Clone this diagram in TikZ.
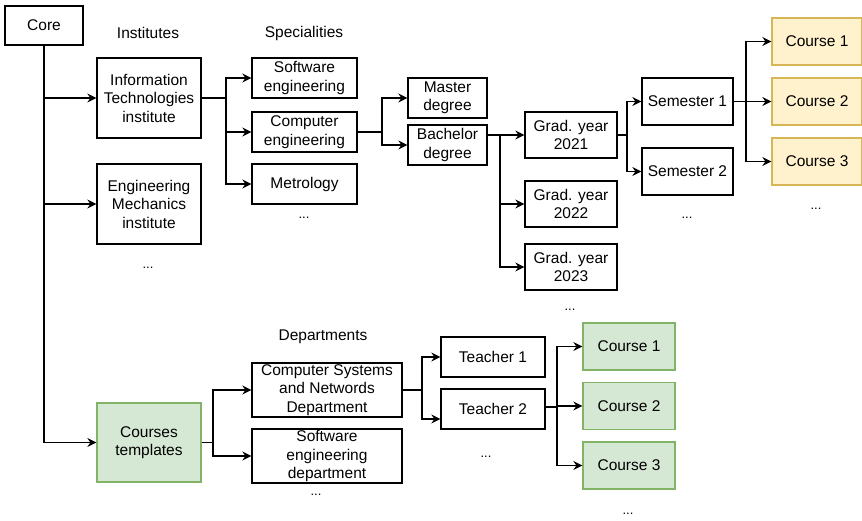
\documentclass[tikz,border=0pt]{standalone}
\usepackage{fontspec}
\setmainfont{Liberation Sans}
\usetikzlibrary{arrows.meta}
\definecolor{ofill}{HTML}{FFF2CC}
\definecolor{oline}{HTML}{D6B656}
\definecolor{gfill}{HTML}{D5E8D4}
\definecolor{gline}{HTML}{82B366}
\tikzset{
  box/.style={draw, line width=1.3pt, fill=white, align=center, inner sep=0pt, font=\fontsize{15.5}{18.5}\selectfont},
  obox/.style={box, fill=ofill, draw=oline},
  gbox/.style={box, fill=gfill, draw=gline},
  lbl/.style={inner sep=0pt, font=\fontsize{15.5}{18.5}\selectfont},
  dots/.style={inner sep=0pt, font=\fontsize{13}{15}\selectfont},
  arr/.style={line width=1.3pt, -{Stealth[length=9pt,width=9pt,inset=3pt]}},
  ln/.style={line width=1.3pt}
}
\begin{document}
\begin{tikzpicture}[x=1pt,y=1pt]
\useasboundingbox (0,0) rectangle (862,-521);
% top part
\node[box, minimum width=78, minimum height=39] (core) at (44,-25.5) {Core};
\node[lbl] (linst) at (148,-33) {Institutes};
\node[lbl] (lspec) at (304,-33) {Specialities};
\node[box, minimum width=104, minimum height=80] (it) at (149,-98) {Information\\Technologies\\institute};
\node[box, minimum width=104, minimum height=80] (em) at (149,-204) {Engineering\\Mechanics\\institute};
\node[dots] (d1) at (148,-268) {...};
\node[box, minimum width=105, minimum height=40] (se) at (304.5,-78) {Software\\engineering};
\node[box, minimum width=105, minimum height=40] (ce) at (304.5,-132) {Computer\\engineering};
\node[box, minimum width=105, minimum height=40] (met) at (304.5,-184) {Metrology};
\node[dots] (d2) at (304,-218) {...};
\node[box, minimum width=79, minimum height=40] (mas) at (447.5,-98) {Master\\degree};
\node[box, minimum width=79, minimum height=40] (bac) at (447.5,-145) {Bachelor\\degree};
\node[box, minimum width=92, minimum height=46] (g1) at (571,-135) {Grad. year\\2021};
\node[box, minimum width=92, minimum height=46] (g2) at (571,-204) {Grad. year\\2022};
\node[box, minimum width=92, minimum height=46] (g3) at (571,-267) {Grad. year\\2023};
\node[dots] (d3) at (570,-310) {...};
\node[box, minimum width=91, minimum height=47] (s1) at (687.5,-101.5) {Semester 1};
\node[box, minimum width=91, minimum height=47] (s2) at (687.5,-171.5) {Semester 2};
\node[dots] (d4) at (687,-218) {...};
\node[obox, minimum width=90, minimum height=47] (c1) at (817,-41.5) {Course 1};
\node[obox, minimum width=90, minimum height=47] (c2) at (817,-101.5) {Course 2};
\node[obox, minimum width=90, minimum height=47] (c3) at (817,-161.5) {Course 3};
\node[dots] (d5) at (816,-209) {...};
% bottom part
\node[gbox, minimum width=104, minimum height=79] (ct) at (149,-442.5) {Courses\\templates};
\node[lbl] (ldep) at (323,-337) {Departments};
\node[box, minimum width=150, minimum height=54] (csn) at (327,-390) {Computer Systems\\and Networds\\Department};
\node[box, minimum width=150, minimum height=54] (sed) at (327,-456) {Software\\engineering\\department};
\node[dots] (d6) at (316,-495) {...};
\node[box, minimum width=104, minimum height=40] (t1) at (493,-357) {Teacher 1};
\node[box, minimum width=104, minimum height=40] (t2) at (493,-409) {Teacher 2};
\node[dots] (d7) at (486,-457) {...};
\node[gbox, minimum width=92, minimum height=47] (k1) at (629,-346.5) {Course 1};
\node[gbox, minimum width=92, minimum height=47] (k2) at (629,-406) {Course 2};
\node[gbox, minimum width=92, minimum height=47] (k3) at (629,-465.5) {Course 3};
\node[dots] (d8) at (628,-514) {...};
% branch points
\coordinate (b1) at (226,-98);
\coordinate (b2) at (382,-132);
\coordinate (b3) at (500,-135);
\coordinate (b4) at (627,-135);
\coordinate (b5) at (746,-101.5);
\coordinate (b6) at (213,-442.5);
\coordinate (b7) at (422,-390);
\coordinate (b8) at (557,-407);
% connectors
\draw[arr] (core.south) |- (it.west);
\draw[arr] (core.south) |- (em.west);
\draw[arr] (core.south) |- (ct.west);
\draw[ln] (it.east) -- (b1);
\draw[arr] (b1) |- (se.west);
\draw[arr] (b1) |- (ce.west);
\draw[arr] (b1) |- (met.west);
\draw[ln] (ce.east) -- (b2);
\draw[arr] (b2) |- (mas.west);
\draw[arr] (b2) |- (bac.west);
\draw[ln] ([yshift=10pt]bac.east) -- (b3);
\draw[arr] (b3) |- (g1.west);
\draw[arr] (b3) |- (g2.west);
\draw[arr] (b3) |- (g3.west);
\draw[ln] (g1.east) -- (b4);
\draw[arr] (b4) |- (s1.west);
\draw[arr] (b4) |- (s2.west);
\draw[ln] (s1.east) -- (b5);
\draw[arr] (b5) |- (c1.west);
\draw[arr] (b5) |- (c2.west);
\draw[arr] (b5) |- (c3.west);
\draw[ln] (ct.east) -- (b6);
\draw[arr] (b6) |- (csn.west);
\draw[arr] (b6) |- (sed.west);
\draw[ln] (csn.east) -- (b7);
\draw[arr] (b7) |- (t1.west);
\draw[arr] (b7) |- ([yshift=-10pt]t2.west);
\draw[ln] ([yshift=2pt]t2.east) -- (b8);
\draw[arr] (b8) |- (k1.west);
\draw[arr] (b8) |- (k2.west);
\draw[arr] (b8) |- (k3.west);
\end{tikzpicture}
\end{document}
